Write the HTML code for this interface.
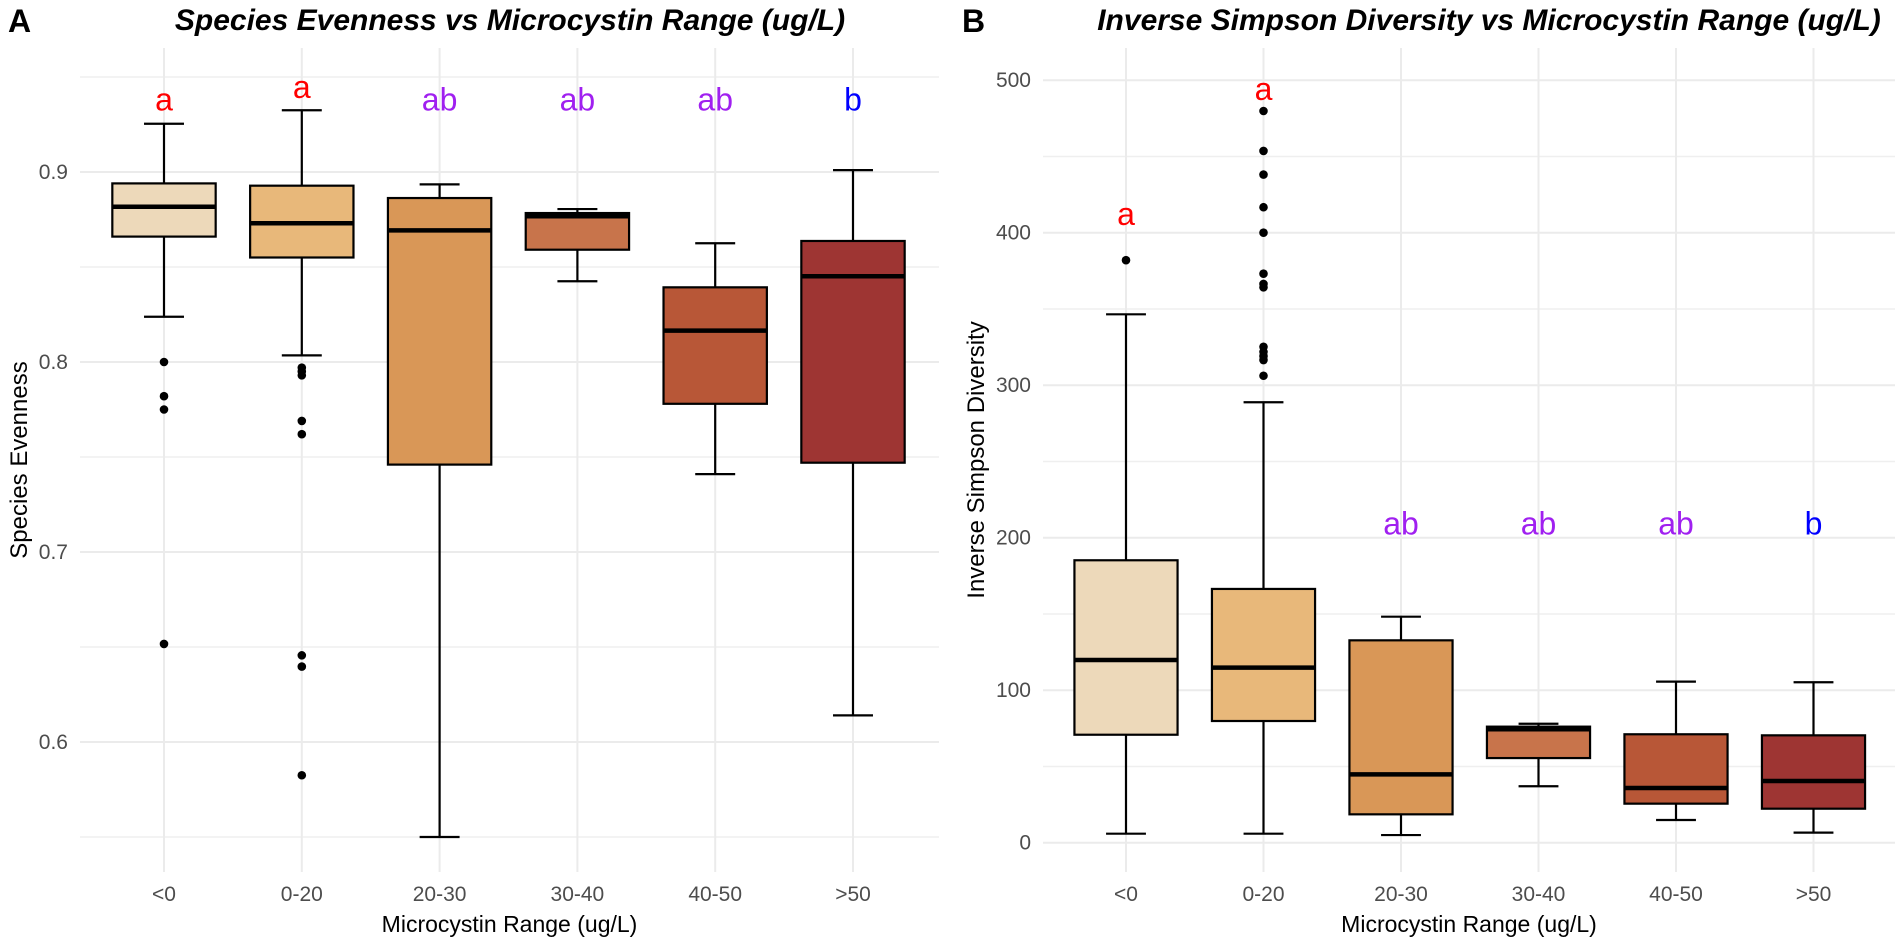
<!DOCTYPE html>
<html><head><meta charset="utf-8">
<style>
html,body{margin:0;padding:0;background:#fff;}
svg{display:block;font-family:"Liberation Sans",sans-serif;}
.tick{fill:#4d4d4d;font-size:21px;}
.ytitle{font-family:"Liberation Sans Narrow","Liberation Sans",sans-serif;font-size:24px;fill:#000;}
.xtitle{font-size:23px;fill:#000;}
.title{font-size:30px;font-weight:bold;font-style:italic;fill:#000;}
.tag{font-size:32px;font-weight:bold;fill:#000;}
.letter{font-size:32px;}
</style></head>
<body>
<svg id="chart" width="1902" height="943" viewBox="0 0 1902 943" xmlns="http://www.w3.org/2000/svg">
<text class="tag" x="8" y="32">A</text>
<text class="title" x="510" y="30" text-anchor="middle">Species Evenness vs Microcystin Range (ug/L)</text>
<text class="tag" x="962" y="32">B</text>
<text class="title" x="1489" y="30" text-anchor="middle">Inverse Simpson Diversity vs Microcystin Range (ug/L)</text>
<g id="pa"></g>
<g id="pb"></g>
</svg>
<script>
const categories = ["<0","0-20","20-30","30-40","40-50",">50"];
const fills = ["#EDD9BA","#E8B87A","#D99757","#C8744B","#B85737","#9E3533"];
// Panel A: species evenness
const evLow = [0.8238,0.8035,0.550,0.8425,0.741,0.614];
const evQ1 = [0.866,0.855,0.746,0.8591,0.778,0.747];
const evMed = [0.8817,0.873,0.8693,0.8767,0.8165,0.8451];
const evQ3 = [0.894,0.8928,0.8863,0.8784,0.8393,0.8637];
const evHigh = [0.9254,0.9325,0.8935,0.8805,0.8625,0.901];
const evOutliers = [[0.800,0.782,0.775,0.6516],[0.797,0.795,0.793,0.769,0.762,0.6456,0.6397,0.5825],[],[],[],[]];
const evLetters = ["a","a","ab","ab","ab","b"];
const evLetterY = [0.9325,0.939,0.9325,0.9325,0.9325,0.9325];
const evTicks = [0.6,0.7,0.8,0.9];
const evMinor = [0.55,0.65,0.75,0.85,0.95];
// Panel B: inverse simpson
const isLow = [5.9,5.9,5.0,37.0,14.9,6.6];
const isQ1 = [70.8,79.8,18.6,55.5,25.6,22.3];
const isMed = [119.8,114.8,44.8,74.4,35.9,40.5];
const isQ3 = [185.2,166.4,132.7,76.1,71.1,70.4];
const isHigh = [346.5,288.8,148.2,78.0,105.6,105.2];
const isOutliers = [[382],[479.8,453.6,438.1,416.7,400.0,373.1,366.4,364.2,325.2,321.9,319.1,316.5,306.2],[],[],[],[]];
const isLetters = ["a","a","ab","ab","ab","b"];
const isLetterY = [405,487,202,202,202,202];
const isTicks = [0,100,200,300,400,500];
const isMinor = [50,150,250,350,450];
const letterColors = {"a":"#FF0000","ab":"#A020F0","b":"#0000FF"};

const NS="http://www.w3.org/2000/svg";
function mk(parent,tag,attrs){const e=document.createElementNS(NS,tag);for(const k in attrs)e.setAttribute(k,attrs[k]);parent.appendChild(e);return e;}

function panel(g,cfg){
  const {x0,x1,yTop,yBot,yScale,xCenter0,step,ticks,minor,low,q1,med,q3,high,outl,letters,letterY,fmt,tickX,ytitle,ytitleX,prefix}=cfg;
  const xs=i=>xCenter0+i*step;
  minor.forEach(v=>{const l=mk(g,'line',{x1:x0,x2:x1,y1:yScale(v),y2:yScale(v),stroke:'#EFEFEF','stroke-width':1.5});
    
    });
  ticks.forEach(v=>{const l=mk(g,'line',{x1:x0,x2:x1,y1:yScale(v),y2:yScale(v),stroke:'#EBEBEB','stroke-width':2});
    
    
    const t=mk(g,'text',{x:tickX,y:yScale(v)+7,'text-anchor':'end',class:'tick'});t.textContent=fmt(v);
    
    });
  categories.forEach((c,i)=>{const l=mk(g,'line',{x1:xs(i),x2:xs(i),y1:yTop,y2:yBot,stroke:'#EBEBEB','stroke-width':2});
    
    
    const t=mk(g,'text',{x:xs(i),y:901,'text-anchor':'middle',class:'tick'});t.textContent=c;
    
    });
  const bw=step*0.75, cw=step*0.29;
  categories.forEach((c,i)=>{
    const x=xs(i);
    const bg=mk(g,'g',{});
    
    
    mk(bg,'line',{x1:x,x2:x,y1:yScale(high[i]),y2:yScale(q3[i]),stroke:'#000','stroke-width':2.2});
    mk(bg,'line',{x1:x,x2:x,y1:yScale(q1[i]),y2:yScale(low[i]),stroke:'#000','stroke-width':2.2});
    mk(bg,'line',{x1:x-cw/2,x2:x+cw/2,y1:yScale(high[i]),y2:yScale(high[i]),stroke:'#000','stroke-width':2.2});
    mk(bg,'line',{x1:x-cw/2,x2:x+cw/2,y1:yScale(low[i]),y2:yScale(low[i]),stroke:'#000','stroke-width':2.2});
    mk(bg,'rect',{x:x-bw/2,y:yScale(q3[i]),width:bw,height:yScale(q1[i])-yScale(q3[i]),fill:fills[i],stroke:'#000','stroke-width':2.2});
    mk(bg,'line',{x1:x-bw/2,x2:x+bw/2,y1:yScale(med[i]),y2:yScale(med[i]),stroke:'#000','stroke-width':4.5});
    outl[i].forEach(v=>{const p=mk(g,'circle',{cx:x,cy:yScale(v),r:4.3,fill:'#000'});
      
      });
    const t=mk(g,'text',{x:x,y:yScale(letterY[i]),'text-anchor':'middle',class:'letter',fill:letterColors[letters[i]]});
    t.textContent=letters[i];
    
    
  });
  const yt=mk(g,'text',{x:ytitleX,y:(yTop+yBot)/2,'text-anchor':'middle',class:'ytitle',transform:`rotate(-90 ${ytitleX} ${(yTop+yBot)/2})`});
  yt.textContent=ytitle;
  
  
  const xt=mk(g,'text',{x:(x0+x1)/2,y:932,'text-anchor':'middle',class:'xtitle'});
  xt.textContent='Microcystin Range (ug/L)';
  
  
}
panel(document.getElementById('pa'),{x0:80,x1:939,yTop:48,yBot:872,yScale:v=>172+(0.9-v)*1900,
  xCenter0:164,step:137.8,ticks:evTicks,minor:evMinor,low:evLow,q1:evQ1,med:evMed,q3:evQ3,high:evHigh,outl:evOutliers,
  letters:evLetters,letterY:evLetterY,fmt:v=>v.toFixed(1),tickX:68,ytitle:'Species Evenness',ytitleX:27,prefix:'evenness'});
panel(document.getElementById('pb'),{x0:1043,x1:1895,yTop:48,yBot:872,yScale:v=>842.7-v*1.525,
  xCenter0:1126,step:137.5,ticks:isTicks,minor:isMinor,low:isLow,q1:isQ1,med:isMed,q3:isQ3,high:isHigh,outl:isOutliers,
  letters:isLetters,letterY:isLetterY,fmt:v=>String(v),tickX:1031,ytitle:'Inverse Simpson Diversity',ytitleX:984,prefix:'simpson'});
</script>
</body></html>
